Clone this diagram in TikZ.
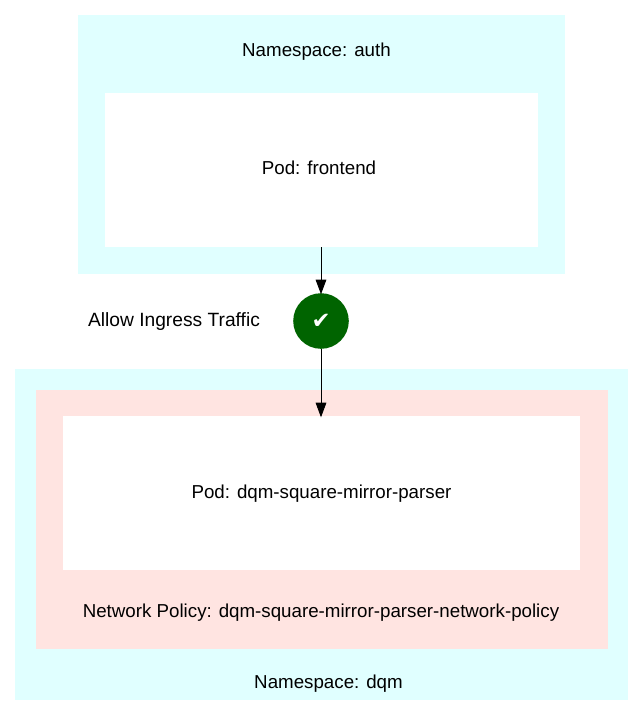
\documentclass[tikz,border=0pt]{standalone}
\usepackage{fontspec}
\setmainfont{Liberation Sans}
\newfontfamily\symfont{DejaVu Sans}
\usetikzlibrary{arrows.meta}
\definecolor{nsbg}{HTML}{E0FFFF}
\definecolor{polbg}{HTML}{FFE4E1}
\definecolor{okgreen}{HTML}{006400}
\tikzset{
 x=0.75pt,y=-0.75pt,
 lbl/.style={font=\fontsize{14.05}{16}\selectfont,inner sep=0,text=black,anchor=base},
 conn/.style={draw=black,line width=0.7pt,-{Triangle[length=11pt,width=8pt]},shorten >=-1pt}
}
\begin{document}
\begin{tikzpicture}
\useasboundingbox (0,0) rectangle (643,715);
\fill[nsbg] (78,15) rectangle (565,274);
\fill[white] (105,93) rectangle (538,247);
\fill[nsbg] (15,369) rectangle (628,700);
\fill[polbg] (36,390) rectangle (608,649);
\fill[white] (62.5,416) rectangle (580,570);
\coordinate (frontbottom) at (321,247);
\coordinate (podtop) at (321,416);
\node[lbl] (nsauth) at (316.5,56) {Namespace: auth};
\node[lbl] (front) at (319,174.5) {Pod: frontend};
\node[lbl,font=\fontsize{14.4}{16}\selectfont] (allow) at (174,326) {Allow Ingress Traffic};
\node[circle,fill=okgreen,minimum size=41.7pt,inner sep=0,text=white,font=\symfont\fontsize{17}{18}\selectfont] (check) at (321,321) {✔};
\node[lbl] (pod) at (321.5,498) {Pod: dqm-square-mirror-parser};
\node[lbl] (pol) at (321,617) {Network Policy: dqm-square-mirror-parser-network-policy};
\node[lbl] (nsdqm) at (328.5,688) {Namespace: dqm};
\draw[conn] (frontbottom) -- (check);
\draw[conn] (check) -- (podtop);
\end{tikzpicture}
\end{document}
